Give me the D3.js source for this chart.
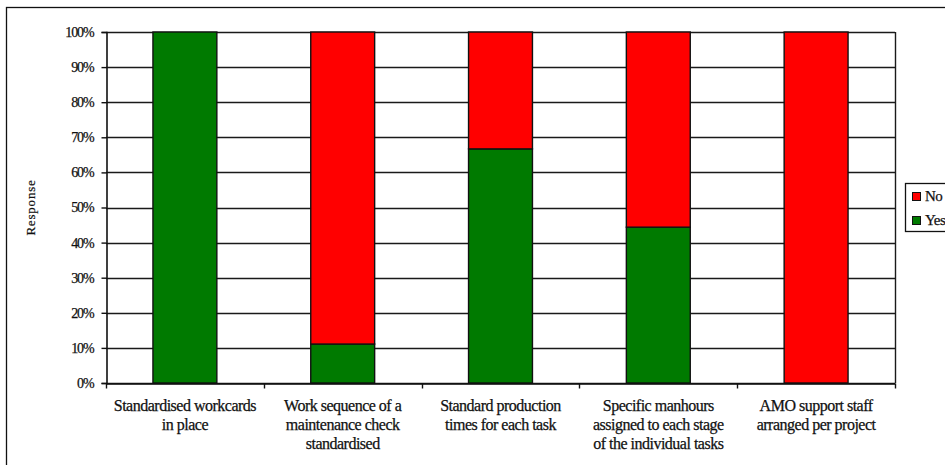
<!DOCTYPE html>
<html>
<head>
<meta charset="utf-8">
<script src="https://cdn.jsdelivr.net/npm/d3@7"></script>
<style>
  html, body { margin: 0; padding: 0; background: #fff; }
  svg { display: block; font-family: "Liberation Serif", "DejaVu Serif", serif; }
</style>
</head>
<body>
<svg id="chart" width="945" height="465"></svg>
<script>
// Survey responses per practice (percent of respondents)
const categories = [
  ["Standardised workcards", "in place"],
  ["Work sequence of a", "maintenance check", "standardised"],
  ["Standard production", "times for each task"],
  ["Specific manhours", "assigned to each stage", "of the individual tasks"],
  ["AMO support staff", "arranged per project"]
];
const yesValues = [100, 11.1, 66.7, 44.4, 0];
const noValues  = [0, 88.9, 33.3, 55.6, 100];
const seriesNames = ["No", "Yes"];
const yTicks = [0, 10, 20, 30, 40, 50, 60, 70, 80, 90, 100];
const colors = { Yes: "#007a00", No: "#ff0000" };

const ink = "#111";
const svg = d3.select("#chart");
const plot = { left: 106, top: 32, right: 895, bottom: 383 };

// Outer chart frame
svg.append("rect")
  .attr("x", 6.5).attr("y", 7.5)
  .attr("width", 960).attr("height", 480)
  .attr("fill", "none").attr("stroke", ink).attr("stroke-width", 1.3);

const x = d3.scaleBand()
  .domain(d3.range(categories.length))
  .range([plot.left, plot.right])
  .paddingInner(0.595).paddingOuter(0.2975);

const xOuter = d3.scaleBand()
  .domain(d3.range(categories.length))
  .range([plot.left, plot.right]);

const y = d3.scaleLinear().domain([0, 100]).range([plot.bottom, plot.top]);

// Horizontal gridlines
svg.append("g")
  .selectAll("line")
  .data(yTicks)
  .join("line")
  .attr("x1", plot.left).attr("x2", plot.right)
  .attr("y1", d => Math.round(y(d)) + 0.5).attr("y2", d => Math.round(y(d)) + 0.5)
  .attr("stroke", "#1a1a1a").attr("stroke-width", 1.4);

// Right border of plot area
svg.append("line")
  .attr("x1", plot.right + 0.5).attr("x2", plot.right + 0.5)
  .attr("y1", plot.top).attr("y2", plot.bottom)
  .attr("stroke", "#1a1a1a").attr("stroke-width", 1.4);

// Stacked bars: Yes at the bottom, No on top
const stackData = categories.map((c, i) => ({ i, Yes: yesValues[i], No: noValues[i] }));
const stack = d3.stack().keys(["Yes", "No"])(stackData);

svg.append("g")
  .selectAll("g")
  .data(stack)
  .join("g")
  .attr("fill", d => colors[d.key])
  .selectAll("rect")
  .data(d => d.filter(s => s[1] - s[0] > 0))
  .join("rect")
  .attr("x", d => x(d.data.i))
  .attr("width", x.bandwidth())
  .attr("y", d => y(d[1]))
  .attr("height", d => y(d[0]) - y(d[1]))
  .attr("stroke", ink).attr("stroke-width", 1.4);

// Y axis
const yAxis = svg.append("g")
  .attr("transform", `translate(${plot.left + 0.5},0)`)
  .call(d3.axisLeft(y).tickValues(yTicks).tickSize(5).tickPadding(8).tickFormat(d => d + "%"));
yAxis.select(".domain").attr("stroke", ink).attr("stroke-width", 1.6);
yAxis.selectAll(".tick line").attr("stroke", ink).attr("stroke-width", 1.4);
yAxis.selectAll("text")
  .attr("font-family", "Liberation Serif, serif")
  .attr("font-size", 14).attr("fill", ink)
  .attr("stroke", ink).attr("stroke-width", 0.25)
  .attr("letter-spacing", "-1.1px");

// X axis baseline and ticks at category boundaries
const xAxis = svg.append("g")
  .attr("transform", `translate(0,${plot.bottom + 0.5})`)
  .call(d3.axisBottom(xOuter).tickSize(0).tickFormat(""));
xAxis.select(".domain").attr("stroke", ink).attr("stroke-width", 1.6);
xAxis.selectAll(".tick").remove();
const boundaries = d3.range(categories.length + 1).map(i => plot.left + i * xOuter.step());
xAxis.selectAll("line.bound")
  .data(boundaries)
  .join("line")
  .attr("class", "bound")
  .attr("x1", d => Math.round(d) + 0.5).attr("x2", d => Math.round(d) + 0.5)
  .attr("y1", 0).attr("y2", 5)
  .attr("stroke", ink).attr("stroke-width", 1.4);

// Category labels
const labels = svg.append("g")
  .selectAll("text")
  .data(categories)
  .join("text")
  .attr("x", (d, i) => xOuter(i) + xOuter.bandwidth() / 2)
  .attr("y", 411)
  .attr("text-anchor", "middle")
  .attr("font-size", 16).attr("fill", ink)
  .attr("stroke", ink).attr("stroke-width", 0.25)
  .attr("letter-spacing", "-0.5px");
labels.selectAll("tspan")
  .data(d => d)
  .join("tspan")
  .attr("x", function () { return this.parentNode.getAttribute("x"); })
  .attr("dy", (d, j) => j === 0 ? 0 : 19)
  .text(d => d);

// Y axis title
svg.append("text")
  .attr("transform", `translate(35,${(plot.top + plot.bottom) / 2}) rotate(-90)`)
  .attr("text-anchor", "middle")
  .attr("font-size", 13).attr("fill", ink)
  .attr("stroke", ink).attr("stroke-width", 0.2)
  .attr("letter-spacing", "0.8px")
  .text("Response");

// Legend
const legend = svg.append("g");
legend.append("rect")
  .attr("x", 905.5).attr("y", 183.5).attr("width", 60).attr("height", 48)
  .attr("fill", "#fff").attr("stroke", ink).attr("stroke-width", 1.3);
const items = legend.selectAll("g.item")
  .data(seriesNames)
  .join("g")
  .attr("class", "item")
  .attr("transform", (d, i) => `translate(912,${196 + i * 24})`);
items.append("rect")
  .attr("x", 0.5).attr("y", -3.5).attr("width", 8).attr("height", 8)
  .attr("fill", d => colors[d]).attr("stroke", ink).attr("stroke-width", 1);
items.append("text")
  .attr("x", 13).attr("y", 5)
  .attr("font-size", 15).attr("fill", ink)
  .attr("stroke", ink).attr("stroke-width", 0.25)
  .attr("letter-spacing", "-0.5px")
  .text(d => d);
</script>
</body>
</html>
